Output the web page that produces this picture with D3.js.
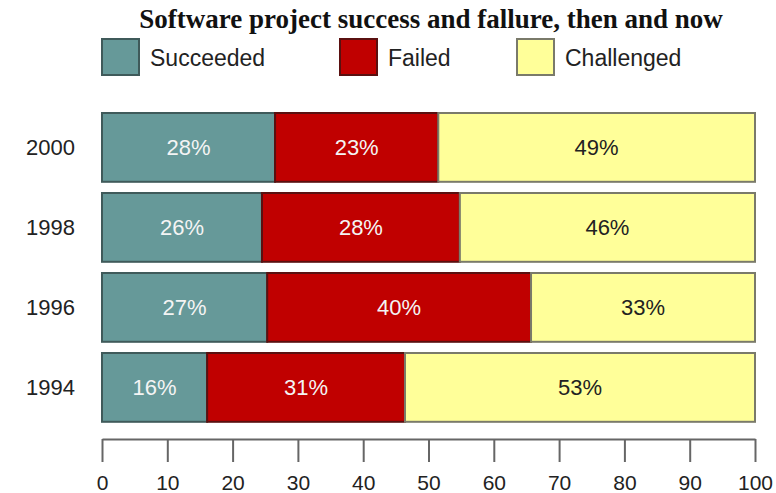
<!DOCTYPE html>
<html>
<head>
<meta charset="utf-8">
<script src="https://cdn.jsdelivr.net/npm/d3@7"></script>
<style>
  body { margin: 0; background: #fff; }
  svg { display: block; }
</style>
</head>
<body>
<svg id="chart"></svg>
<script>
// years top to bottom
var years = ["2000", "1998", "1996", "1994"];
var series = ["Succeeded", "Failed", "Challenged"];
// segment lengths as drawn in the picture
var succeeded = [26.5, 24.5, 25.3, 16.1];
var failed = [25.0, 30.3, 40.4, 30.3];
var challenged = [48.5, 45.2, 34.3, 53.6];
// the printed labels
var succeededLabels = ["28%", "26%", "27%", "16%"];
var failedLabels = ["23%", "28%", "40%", "31%"];
var challengedLabels = ["49%", "46%", "33%", "53%"];
var xTicks = [0, 10, 20, 30, 40, 50, 60, 70, 80, 90, 100];

var colors = ["#669999", "#c00000", "#ffff99"];
var strokes = ["#3f5a5a", "#5a1010", "#7a7a6a"];
var textColors = ["#f4f4f4", "#f4f4f4", "#222"];

var width = 776, height = 493;
var svg = d3.select("#chart").attr("width", width).attr("height", height);

var x = d3.scaleLinear().domain([0, 100]).range([102, 755]);
var y = d3.scaleBand().domain(years).range([107.4, 427.4])
	.paddingInner(0.14).paddingOuter(0.07);

// title
svg.append("text")
	.attr("x", 431).attr("y", 28)
	.attr("text-anchor", "middle")
	.style("font-family", "'Liberation Serif', 'Times New Roman', serif")
	.style("font-weight", "bold")
	.style("font-size", "27px")
	.attr("fill", "#111")
	.text("Software project success and fallure, then and now");

// legend
var legendX = [102, 340, 517];
var legend = svg.selectAll(".legend")
	.data(series)
	.enter().append("g")
	.attr("class", "legend")
	.attr("transform", function(d, i) { return "translate(" + legendX[i] + ",39)"; });
legend.append("rect")
	.attr("width", 37).attr("height", 36)
	.attr("fill", function(d, i) { return colors[i]; })
	.attr("stroke", function(d, i) { return strokes[i]; })
	.attr("stroke-width", 2);
legend.append("text")
	.attr("x", 48).attr("y", 27)
	.style("font-family", "'Liberation Sans', Arial, sans-serif")
	.style("font-size", "23px")
	.attr("fill", "#222")
	.text(function(d) { return d; });

// stack rows
var rows = years.map(function(yr, i) {
	return { year: yr, Succeeded: succeeded[i], Failed: failed[i], Challenged: challenged[i] };
});
var labels = [succeededLabels, failedLabels, challengedLabels];
var stacked = d3.stack().keys(series)(rows);

var layers = svg.selectAll(".layer")
	.data(stacked)
	.enter().append("g")
	.attr("class", "layer");

layers.selectAll("rect")
	.data(function(d) { return d; })
	.enter().append("rect")
	.attr("x", function(d) { return x(d[0]); })
	.attr("y", function(d) { return y(d.data.year); })
	.attr("width", function(d) { return x(d[1]) - x(d[0]); })
	.attr("height", y.bandwidth())
	.attr("fill", function(d) { return colors[d3.select(this.parentNode).datum().index]; })
	.attr("stroke", function(d) { return strokes[d3.select(this.parentNode).datum().index]; })
	.attr("stroke-width", 2);

layers.each(function(layer) {
	var k = layer.index;
	d3.select(this).selectAll("text")
		.data(layer)
		.enter().append("text")
		.attr("x", function(d) { return (x(d[0]) + x(d[1])) / 2; })
		.attr("y", function(d) { return y(d.data.year) + y.bandwidth() / 2; })
		.attr("dy", "0.36em")
		.attr("text-anchor", "middle")
		.style("font-family", "'Liberation Sans', Arial, sans-serif")
		.style("font-size", "22px")
		.attr("fill", textColors[k])
		.text(function(d, i) { return labels[k][i]; });
});

// year labels
svg.selectAll(".year")
	.data(years)
	.enter().append("text")
	.attr("class", "year")
	.attr("x", 75)
	.attr("y", function(d) { return y(d) + y.bandwidth() / 2; })
	.attr("dy", "0.36em")
	.attr("text-anchor", "end")
	.style("font-family", "'Liberation Sans', Arial, sans-serif")
	.style("font-size", "22px")
	.attr("fill", "#222")
	.text(function(d) { return d; });

// x axis
var axis = svg.append("g")
	.attr("transform", "translate(0,439)")
	.call(d3.axisBottom(x).tickValues(xTicks).tickSize(23).tickSizeOuter(0).tickPadding(13));
axis.select(".domain").attr("stroke", "#666").attr("stroke-width", 2);
axis.selectAll(".tick line").attr("stroke", "#666").attr("stroke-width", 2);
axis.selectAll(".tick text")
	.style("font-family", "'Liberation Sans', Arial, sans-serif")
	.style("font-size", "21px")
	.attr("fill", "#222");
</script>
</body>
</html>
